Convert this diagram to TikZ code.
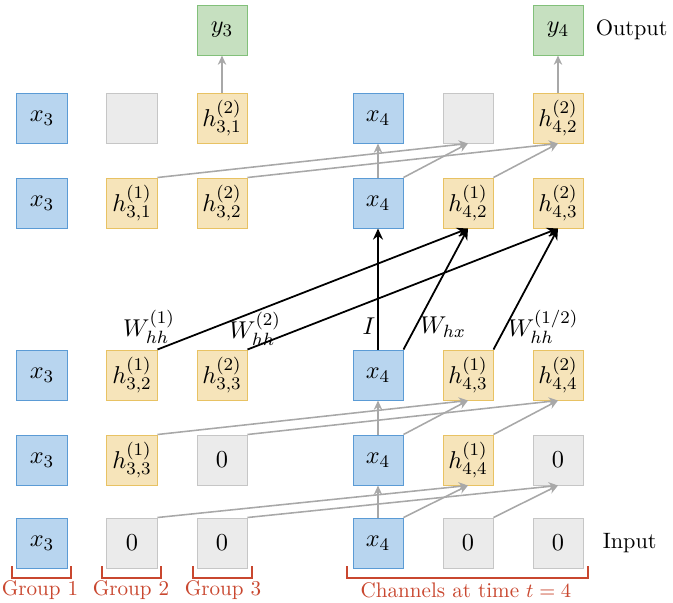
\documentclass[tikz,border=0pt]{standalone}
\usetikzlibrary{arrows.meta}
\definecolor{bluefill}{HTML}{B8D5EF}
\definecolor{blueline}{HTML}{5B9BD5}
\definecolor{orfill}{HTML}{F6E4BA}
\definecolor{orline}{HTML}{E8C263}
\definecolor{grfill}{HTML}{EBEBEB}
\definecolor{grline}{HTML}{C6C6C6}
\definecolor{gnfill}{HTML}{C6E0C0}
\definecolor{gnline}{HTML}{82C07A}
\definecolor{redtext}{HTML}{C9472F}
\definecolor{arrowgray}{HTML}{A8A8A8}
\begin{document}
\begin{tikzpicture}[x=0.45pt,y=-0.45pt,
  cell/.style={minimum width=22.5pt, minimum height=22.5pt, inner sep=0pt, line width=0.45pt, font=\fontsize{11}{13}\selectfont},
  xcell/.style={cell, fill=bluefill, draw=blueline},
  hcell/.style={cell, fill=orfill, draw=orline},
  zcell/.style={cell, fill=grfill, draw=grline},
  ycell/.style={cell, fill=gnfill, draw=gnline},
  wlab/.style={font=\fontsize{11}{13}\selectfont},
  garrow/.style={draw=arrowgray, line width=0.7pt, -{Stealth[length=4.2pt,width=3.8pt]}},
  barrow/.style={draw=black, line width=0.8pt, -{Stealth[length=5pt,width=4.5pt]}},
  brk/.style={draw=redtext, line width=0.75pt},
  grp/.style={text=redtext, font=\fontsize{9.5}{11}\selectfont},
]
\useasboundingbox (0,0) rectangle (673,602);

% Output row
\node[ycell] (o3) at (222,30) {$y_3$};
\node[ycell] (o6) at (558,30) {$y_4$};
\node[anchor=west] (outl) at (588,30) {Output};

% Row A
\node[xcell] (a1) at (42,118) {$x_3$};
\node[zcell] (a2) at (132,118) {};
\node[hcell] (a3) at (222,118) {$h^{(2)}_{3,1}$};
\node[xcell] (a4) at (378,118) {$x_4$};
\node[zcell] (a5) at (468,118) {};
\node[hcell] (a6) at (558,118) {$h^{(2)}_{4,2}$};

% Row B
\node[xcell] (b1) at (42,203) {$x_3$};
\node[hcell] (b2) at (132,203) {$h^{(1)}_{3,1}$};
\node[hcell] (b3) at (222,203) {$h^{(2)}_{3,2}$};
\node[xcell] (b4) at (378,203) {$x_4$};
\node[hcell] (b5) at (468,203) {$h^{(1)}_{4,2}$};
\node[hcell] (b6) at (558,203) {$h^{(2)}_{4,3}$};

% Row C
\node[xcell] (c1) at (42,375) {$x_3$};
\node[hcell] (c2) at (132,375) {$h^{(1)}_{3,2}$};
\node[hcell] (c3) at (222,375) {$h^{(2)}_{3,3}$};
\node[xcell] (c4) at (378,375) {$x_4$};
\node[hcell] (c5) at (468,375) {$h^{(1)}_{4,3}$};
\node[hcell] (c6) at (558,375) {$h^{(2)}_{4,4}$};

% Row D
\node[xcell] (d1) at (42,460) {$x_3$};
\node[hcell] (d2) at (132,460) {$h^{(1)}_{3,3}$};
\node[zcell] (d3) at (222,460) {$0$};
\node[xcell] (d4) at (378,460) {$x_4$};
\node[hcell] (d5) at (468,460) {$h^{(1)}_{4,4}$};
\node[zcell] (d6) at (558,460) {$0$};

% Row E
\node[xcell] (e1) at (42,543) {$x_3$};
\node[zcell] (e2) at (132,543) {$0$};
\node[zcell] (e3) at (222,543) {$0$};
\node[xcell] (e4) at (378,543) {$x_4$};
\node[zcell] (e5) at (468,543) {$0$};
\node[zcell] (e6) at (558,543) {$0$};
\node[anchor=west] (inl) at (595,543) {Input};

% gray arrows: output
\draw[garrow] (a3.north) -- (o3.south);
\draw[garrow] (a6.north) -- (o6.south);

% gray arrows B -> A, D -> C, E -> D
\foreach \lo/\hi in {b/a, d/c, e/d}{
  \draw[garrow] (\lo2.north east) -- (\hi5.south);
  \draw[garrow] (\lo3.north east) -- (\hi6.south);
  \draw[garrow] (\lo4.north) -- (\hi4.south);
  \draw[garrow] (\lo4.north east) -- (\hi5.south);
  \draw[garrow] (\lo5.north east) -- (\hi6.south);
}

% black arrows C -> B
\draw[barrow] (c2.north east) -- (b5.south);
\draw[barrow] (c3.north east) -- (b6.south);
\draw[barrow] (c4.north) -- (b4.south);
\draw[barrow] (c4.north east) -- (b5.south);
\draw[barrow] (c5.north east) -- (b6.south);

% weight labels
\node[wlab] (l1) at (149,327) {$W^{(1)}_{hh}$};
\node[wlab] (l2) at (255,329) {$W^{(2)}_{hh}$};
\node[wlab] (l3) at (369,326) {$I$};
\node[wlab] (l4) at (443,327) {$W_{hx}$};
\node[wlab] (l5) at (543,327) {$W^{(1/2)}_{hh}$};

% brackets
\draw[brk] (12,566) -- (12,578) -- (71,578) -- (71,566);
\draw[brk] (102,566) -- (102,578) -- (161,578) -- (161,566);
\draw[brk] (193,566) -- (193,578) -- (252,578) -- (252,566);
\draw[brk] (347,566) -- (347,578) -- (588,578) -- (588,566);
\node[grp] (g1) at (40,590) {Group 1};
\node[grp] (g2) at (131,590) {Group 2};
\node[grp] (g3) at (223,590) {Group 3};
\node[grp] (g4) at (466,590) {Channels at time $t=4$};
\end{tikzpicture}
\end{document}
